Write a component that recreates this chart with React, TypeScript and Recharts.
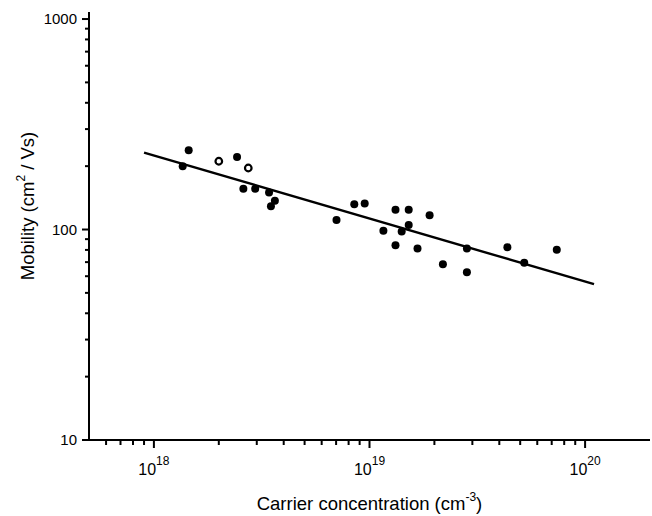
import { Scatter, ScatterChart, XAxis, YAxis, Label } from 'recharts'

// carrier concentration (cm^-3) and mobility (cm^2/Vs)
const filledN = [
  1.36e18, 1.45e18, 2.43e18, 2.6e18, 2.95e18, 3.42e18, 3.64e18, 3.49e18, 7.03e18,
  8.5e18, 9.5e18, 1.32e19, 1.52e19, 1.9e19, 1.16e19, 1.41e19, 1.52e19, 1.32e19,
  1.67e19, 2.19e19, 2.83e19, 2.83e19, 4.36e19, 5.22e19, 7.39e19,
]
const filledMu = [
  200, 238, 221, 156, 156, 150, 137, 129, 111, 132, 133, 124, 124, 117, 98.6, 97.8,
  105, 84.2, 81.2, 68.4, 81.2, 62.7, 82.4, 69.5, 80.1,
]
const openN = [2.0e18, 2.74e18]
const openMu = [211, 196]

// power-law fit, end points
const fitN = [9e17, 1.1e20]
const fitMu = [232, 55]

const xMajor = [1e18, 1e19, 1e20]
const xMinor = [6e17, 7e17, 8e17, 9e17, 2e18, 3e18, 4e18, 5e18, 6e18, 7e18, 8e18, 9e18,
  2e19, 3e19, 4e19, 5e19, 6e19, 7e19, 8e19, 9e19]
const yMajor = [10, 100, 1000]
const yMinor = [20, 30, 40, 50, 60, 70, 80, 90, 200, 300, 400, 500, 600, 700, 800, 900]

const filled = filledN.map((n, i) => ({ n, mu: filledMu[i] }))
const open = openN.map((n, i) => ({ n, mu: openMu[i] }))
const fit = fitN.map((n, i) => ({ n, mu: fitMu[i] }))

const font = '"Liberation Sans", Arial, sans-serif'

function XTick({ x, y, payload }: any) {
  const major = xMajor.includes(payload.value)
  const exp = Math.round(Math.log10(payload.value))
  return (
    <g>
      <line x1={x} x2={x} y1={y} y2={y + (major ? 8 : 5)} stroke="#000" strokeWidth={2} />
      {major && (
        <text x={x} y={y + 35} textAnchor="middle" fontSize={16} fontFamily={font} fill="#000">
          10
          <tspan dy={-10} fontSize={12}>{exp}</tspan>
        </text>
      )}
    </g>
  )
}

function YTick({ x, y, payload }: any) {
  const major = yMajor.includes(payload.value)
  return (
    <g>
      <line x1={x} x2={x - (major ? 7 : 4)} y1={y} y2={y} stroke="#000" strokeWidth={2} />
      {major && (
        <text x={x - 12} y={y + 5} textAnchor="end" fontSize={15} fontFamily={font} fill="#000">
          {payload.value}
        </text>
      )}
    </g>
  )
}

const dot = ({ cx, cy }: any) => <circle cx={cx} cy={cy} r={4} fill="#000" />
const ring = ({ cx, cy }: any) => (
  <circle cx={cx} cy={cy} r={3.3} fill="#fff" stroke="#000" strokeWidth={2.2} />
)
const none = () => <g />

export default function App() {
  return (
    <div style={{ position: 'absolute', left: 0, top: 0, width: 652, height: 516, background: '#fff' }}>
      <ScatterChart width={652} height={516} margin={{ top: 12, right: 2, bottom: 0, left: 0 }}>
        <XAxis
          dataKey="n"
          type="number"
          scale="log"
          domain={[5e17, 2e20]}
          allowDataOverflow
          ticks={[...xMajor, ...xMinor]}
          interval={0}
          tick={<XTick />}
          tickLine={false}
          tickSize={0}
          tickMargin={0}
          height={76}
          axisLine={{ stroke: '#000', strokeWidth: 2 }}
        >
          <Label
            content={({ viewBox }: any) => (
              <text
                x={viewBox.x + viewBox.width / 2}
                y={viewBox.y + 70}
                textAnchor="middle"
                fontSize={18.5}
                fontFamily={font}
                fill="#000"
              >
                Carrier concentration (cm
                <tspan dy={-9} fontSize={12}>-3</tspan>
                <tspan dy={9}>)</tspan>
              </text>
            )}
          />
        </XAxis>
        <XAxis
          xAxisId="top"
          orientation="top"
          dataKey="n"
          type="number"
          scale="log"
          domain={[5e17, 2e20]}
          allowDataOverflow
          height={0}
          tick={false}
          tickLine={false}
          axisLine={{ stroke: '#000', strokeWidth: 2 }}
        />
        <YAxis
          dataKey="mu"
          type="number"
          scale="log"
          domain={[10, 1080]}
          allowDataOverflow
          ticks={[...yMajor, ...yMinor]}
          interval={0}
          tick={<YTick />}
          tickLine={false}
          tickSize={0}
          tickMargin={0}
          width={89}
          axisLine={{ stroke: '#000', strokeWidth: 2 }}
        >
          <Label
            content={({ viewBox }: any) => {
              const cx = 34
              const cy = viewBox.y + viewBox.height / 2 - 20
              return (
                <text
                  x={cx}
                  y={cy}
                  transform={`rotate(-90 ${cx} ${cy})`}
                  textAnchor="middle"
                  fontSize={18.5}
                  fontFamily={font}
                  fill="#000"
                >
                  Mobility (cm
                  <tspan dy={-9} fontSize={12}>2</tspan>
                  <tspan dy={9}> / Vs)</tspan>
                </text>
              )
            }}
          />
        </YAxis>
        <YAxis
          yAxisId="right"
          orientation="right"
          dataKey="mu"
          type="number"
          scale="log"
          domain={[10, 1080]}
          allowDataOverflow
          width={0}
          tick={false}
          tickLine={false}
          axisLine={{ stroke: '#000', strokeWidth: 2 }}
        />
        <Scatter
          data={fit}
          line={{ stroke: '#000', strokeWidth: 2.4 }}
          shape={none}
          isAnimationActive={false}
        />
        <Scatter data={filled} shape={dot} isAnimationActive={false} />
        <Scatter data={open} shape={ring} isAnimationActive={false} />
      </ScatterChart>
    </div>
  )
}
